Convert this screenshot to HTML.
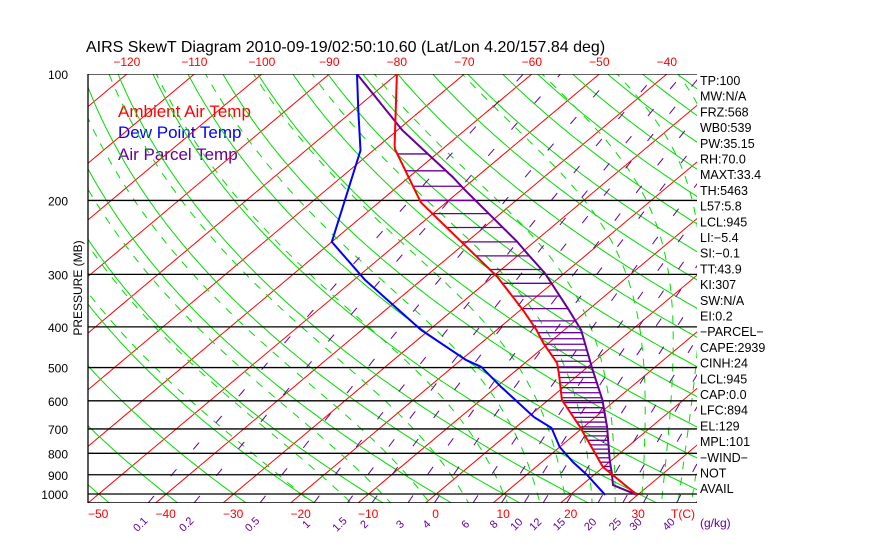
<!DOCTYPE html>
<html><head><meta charset="utf-8"><style>
body{margin:0;background:#fff;}
svg{display:block;font-family:"Liberation Sans",sans-serif;}
</style></head><body>
<svg id="c" width="870" height="560" xmlns="http://www.w3.org/2000/svg">
<defs><clipPath id="pc"><rect x="88" y="74" width="609" height="429"/></clipPath></defs>
<text x="86" y="52" font-size="16" fill="#000">AIRS SkewT Diagram 2010-09-19/02:50:10.60 (Lat/Lon 4.20/157.84 deg)</text>
<text x="118" y="117" font-size="17" fill="#ff0000">Ambient Air Temp</text>
<text x="118" y="138" font-size="17" fill="#0000ff">Dew Point Temp</text>
<text x="118" y="160" font-size="17" fill="#660099">Air Parcel Temp</text>
<text transform="translate(82,288) rotate(-90)" text-anchor="middle" font-size="12">PRESSURE (MB)</text>
<text x="683" y="518" font-size="12" fill="#ff0000" text-anchor="middle">T(C)</text>
<text x="700" y="527" font-size="12" fill="#660099">(g/kg)</text>
<g id="grid" clip-path="url(#pc)"></g>
<g id="marks" clip-path="url(#pc)"></g>
<g id="labels"></g>
</svg>
<script>
// ---- data ----
const isobars = [100,200,300,400,500,600,700,800,900,1000];
const topTempTicks = [-120,-110,-100,-90,-80,-70,-60,-50,-40];
const bottomTempTicks = [-50,-40,-30,-20,-10,0,10,20,30];
const mixRatios = [0.1,0.2,0.5,1,1.5,2,3,4,6,8,10,12,15,20,25,30,40];
const dryThetaC = [-60,-50,-40,-30,-20,-10,0,10,20,30,40,50,60,70,80,90,100,110,120,130,140,150,160,170,180,190,200];
const moistStartC = [-20,-14,-8,-2,4,10,15,19,23,26.5,30.5,33.5,36,38,40];
const tempP = [100,148,151,202,304,365,407,437,488,521,597,693,799,862,1005];
const tempC = [-80,-67.7,-67,-53.8,-29.3,-19.6,-14.1,-10.8,-5.2,-2.8,2.0,9.5,16.3,19.9,29.9];
const dewP = [100,122,152,251,309,407,480,498,556,656,696,773,839,901,1005];
const dewC = [-85.9,-79.3,-71.9,-60,-48.4,-31.2,-19.2,-15.8,-9.3,0.9,5.4,10.0,14.6,19.0,25.2];
const parcelP = [100,136,176,189,251,267,298,365,407,507,597,693,830,891,952,1005];
const parcelC = [-85.9,-69.3,-53.5,-49.4,-32.5,-29.1,-22.9,-12.8,-7.5,1.3,8.0,13.5,19.7,22.3,24.6,29.9];
const hatchP = [155,170,185,200,215,232,251,271,292,315,338,362,387,400,413,427,440,454,468,483,498,513,528,543,558,574,590,606,623,640,657,674,692,710,727,745,764,782,801,820,840,860,879,899,915];
const infoLabels = ["TP:100","MW:N/A","FRZ:568","WB0:539","PW:35.15","RH:70.0","MAXT:33.4","TH:5463","L57:5.8","LCL:945","LI:\u22125.4","SI:\u22120.1","TT:43.9","KI:307","SW:N/A","EI:0.2","\u2212PARCEL\u2212","CAPE:2939","CINH:24","LCL:945","CAP:0.0","LFC:894","EL:129","MPL:101","\u2212WIND\u2212"," NOT","AVAIL"];

// ---- axes ----
const NS="http://www.w3.org/2000/svg";
function yP(p){return 494+182.4*Math.log(p/1000);}
function xT(T,p){return 88+(T+50)*6.75+1.192*(503-yP(p));}
function mk(tag,attrs,parent){const e=document.createElementNS(NS,tag);for(const k in attrs)e.setAttribute(k,attrs[k]);parent.appendChild(e);return e;}
const grid=document.getElementById('grid'), marks=document.getElementById('marks'), labels=document.getElementById('labels');
function pathFrom(pts){return pts.map((q,i)=>(i?'L':'M')+q[0].toFixed(1)+' '+q[1].toFixed(1)).join(' ');}
const pLevels=[];for(let lp=Math.log(1050);lp>=Math.log(95);lp-=0.02)pLevels.push(Math.exp(lp));

for(let T=-160;T<=50;T+=10){
  const e=mk('line',{x1:xT(T,1050),y1:yP(1050),x2:xT(T,95),y2:yP(95),stroke:'#ff0000','stroke-width':1},grid);
  
  
}
dryThetaC.forEach(th=>{
  const pts=pLevels.map(p=>[xT((th+273.15)*Math.pow(p/1000,0.2857)-273.15,p),yP(p)]);
  const e=mk('path',{d:pathFrom(pts),fill:'none',stroke:'#00dd00','stroke-width':1},grid);
  
  
});
function es(Tc){return 6.112*Math.exp(17.67*Tc/(Tc+243.5));}
moistStartC.forEach(t0=>{
  let T=t0+273.15, lp=Math.log(1000);
  const up=[],down=[];
  for(const dir of [-1,1]){
    let Tk=T, l=lp; const arr=dir<0?up:down;
    for(let i=0;i<200;i++){
      const p=Math.exp(l); arr.push([xT(Tk-273.15,p),yP(p)]);
      if(p<100||p>1060)break;
      const rs=0.622*es(Tk-273.15)/(p-es(Tk-273.15));
      const dTdlnp=(287*Tk+2.5e6*rs)/(1004+2.5e6*2.5e6*rs*0.622/(287*Tk*Tk));
      const dl=dir*0.02; Tk+=dTdlnp*dl; l+=dl;
      if(Tk<150)break;
    }
  }
  const pts=up.reverse().concat(down.slice(1));
  const e=mk('path',{d:pathFrom(pts),fill:'none',stroke:'#00dd00','stroke-width':1,'stroke-dasharray':'8 8'},grid);
  
  
});
function tMix(w,p){const e=w*p/(622+w);const l=Math.log(e/6.112);return 243.5*l/(17.67-l);}
mixRatios.forEach(w=>{
  const pts=pLevels.map(p=>[xT(tMix(w,p),p),yP(p)]);
  const e=mk('path',{d:pathFrom(pts),fill:'none',stroke:'#660099','stroke-width':1,'stroke-dasharray':'9 26'},grid);
  
  
  const lx=xT(tMix(w,1050),1050)-8;
  const t=mk('text',{x:lx,y:528,'font-size':11,fill:'#660099','text-anchor':'middle',transform:`rotate(-45 ${lx} 524)`},labels);
  t.textContent=String(w);
  
  
});
isobars.concat([1050]).forEach(p=>{
  const e=mk('line',{x1:88,y1:yP(p),x2:697,y2:yP(p),stroke:'#000','stroke-width':1.3},grid);
  
  
});
isobars.forEach(p=>{
  const t=mk('text',{x:68,y:yP(p)+5,'font-size':12,'text-anchor':'end'},labels);
  t.textContent=String(p);
  
  
});
const ax=mk('line',{x1:88,y1:74,x2:88,y2:503,stroke:'#000','stroke-width':1.3},labels);


topTempTicks.forEach(T=>{
  const t=mk('text',{x:xT(T,100),y:66,'font-size':12,fill:'#ff0000','text-anchor':'middle'},labels);
  t.textContent=T<0?'\u2212'+(-T):String(T);
  
  
});
bottomTempTicks.forEach(T=>{
  const t=mk('text',{x:xT(T,1050)+10,y:518,'font-size':12,fill:'#ff0000','text-anchor':'middle'},labels);
  t.textContent=T<0?'\u2212'+(-T):String(T);
  
  
});
infoLabels.forEach((s,i)=>{
  const t=mk('text',{x:700,y:85+i*15.7,'font-size':12.5},labels);
  t.textContent=s;
  
  
});
function interp(P,V,p){const lp=Math.log(p);for(let i=0;i<P.length-1;i++){const a=Math.log(P[i]),b=Math.log(P[i+1]);if(lp>=a&&lp<=b)return V[i]+(V[i+1]-V[i])*(lp-a)/(b-a);}return null;}
hatchP.forEach(p=>{
  const te=interp(tempP,tempC,p), tp=interp(parcelP,parcelC,p);
  if(te===null||tp===null||tp<=te)return;
  const e=mk('line',{x1:xT(te,p),y1:yP(p),x2:xT(tp,p),y2:yP(p),stroke:'#660099','stroke-width':1.3},marks);
  
  
});
function profile(P,V,color,name){
  const pts=P.map((p,i)=>[xT(V[i],p),yP(p)]);
  const e=mk('path',{d:pathFrom(pts),fill:'none',stroke:color,'stroke-width':2},marks);
  
  
}
profile(parcelP,parcelC,'#660099','parcel-temp-line');
profile(dewP,dewC,'#0000ff','dew-point-line');
profile(tempP,tempC,'#ff0000','air-temp-line');
</script>
</body></html>
